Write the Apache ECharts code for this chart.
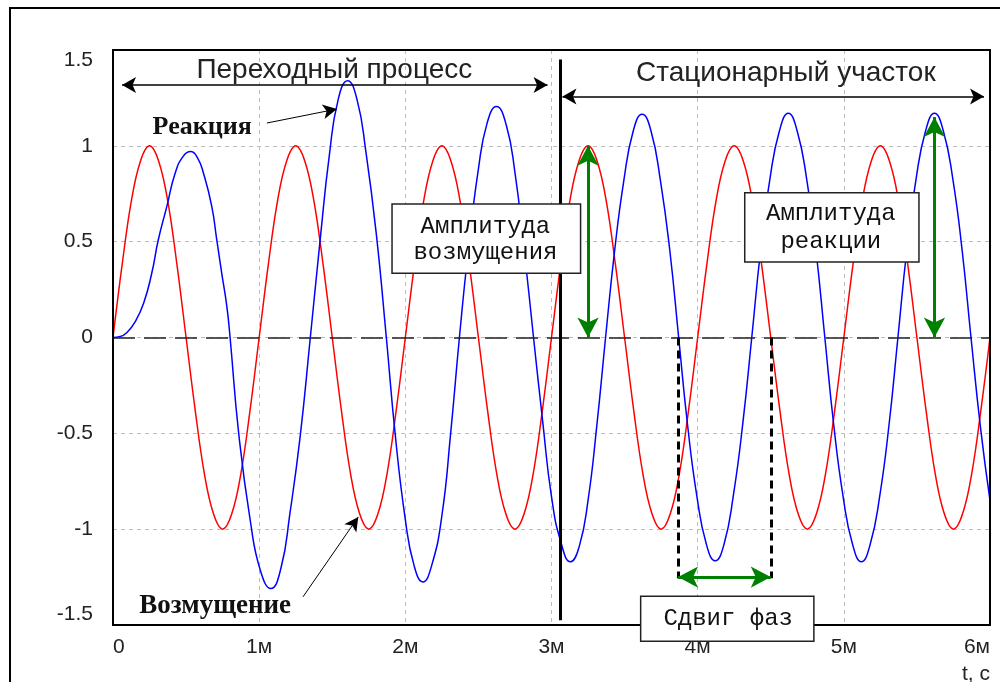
<!DOCTYPE html>
<html><head><meta charset="utf-8">
<script src="https://cdn.jsdelivr.net/npm/echarts@6/dist/echarts.min.js"></script>
<style>html,body{margin:0;padding:0;background:#fff}#c{width:1000px;height:682px}</style>
</head><body><div id="c"></div>
<script>
// ---- tick labels ----
const xTickLabels = ['0', '1м', '2м', '3м', '4м', '5м', '6м'];
const yTickLabels = {'-1.5': '-1.5', '-1': '-1', '-0.5': '-0.5', '0': '0', '0.5': '0.5', '1': '1', '1.5': '1.5'};

// ---- Возмущение (red), [t, value] ----
const disturbance = [
  [0,0],[0.0625,0.38],[0.125,0.71],[0.1875,0.92],[0.25,1],[0.3125,0.92],[0.375,0.71],[0.4375,0.38],
  [0.5,0],[0.5625,-0.38],[0.625,-0.71],[0.6875,-0.92],[0.75,-1],[0.8125,-0.92],[0.875,-0.71],[0.9375,-0.38],
  [1,0],[1.0625,0.38],[1.125,0.71],[1.1875,0.92],[1.25,1],[1.3125,0.92],[1.375,0.71],[1.4375,0.38],
  [1.5,0],[1.5625,-0.38],[1.625,-0.71],[1.6875,-0.92],[1.75,-1],[1.8125,-0.92],[1.875,-0.71],[1.9375,-0.38],
  [2,0],[2.0625,0.38],[2.125,0.71],[2.1875,0.92],[2.25,1],[2.3125,0.92],[2.375,0.71],[2.4375,0.38],
  [2.5,0],[2.5625,-0.38],[2.625,-0.71],[2.6875,-0.92],[2.75,-1],[2.8125,-0.92],[2.875,-0.71],[2.9375,-0.38],
  [3,0],[3.0625,0.38],[3.125,0.71],[3.1875,0.92],[3.25,1],[3.3125,0.92],[3.375,0.71],[3.4375,0.38],
  [3.5,0],[3.5625,-0.38],[3.625,-0.71],[3.6875,-0.92],[3.75,-1],[3.8125,-0.92],[3.875,-0.71],[3.9375,-0.38],
  [4,0],[4.0625,0.38],[4.125,0.71],[4.1875,0.92],[4.25,1],[4.3125,0.92],[4.375,0.71],[4.4375,0.38],
  [4.5,0],[4.5625,-0.38],[4.625,-0.71],[4.6875,-0.92],[4.75,-1],[4.8125,-0.92],[4.875,-0.71],[4.9375,-0.38],
  [5,0],[5.0625,0.38],[5.125,0.71],[5.1875,0.92],[5.25,1],[5.3125,0.92],[5.375,0.71],[5.4375,0.38],
  [5.5,0],[5.5625,-0.38],[5.625,-0.71],[5.6875,-0.92],[5.75,-1],[5.8125,-0.92],[5.875,-0.71],[5.9375,-0.38],
  [6,0]
];

// ---- Реакция (blue), [t, value] ----
const response = [
  [0,0],[0.05,0.005],[0.1,0.03],[0.15,0.08],[0.21,0.18],[0.265,0.335],[0.31,0.51],[0.368,0.683],
  [0.425,0.857],[0.48,0.945],[0.532,0.97],[0.58,0.935],[0.619,0.857],[0.676,0.683],[0.71,0.509],
  [0.744,0.335],[0.779,0.161],[0.801,0],
  [0.86,-0.5],[0.94,-0.96],[1.01,-1.22],[1.08,-1.31],[1.15,-1.2],[1.21,-0.92],[1.28,-0.52],[1.35,0],
  [1.42,0.53],[1.48,0.95],[1.54,1.24],[1.605,1.34],[1.67,1.24],[1.73,0.97],[1.8,0.55],[1.87,0],
  [1.93,-0.5],[2.0,-0.95],[2.06,-1.19],[2.12,-1.275],[2.18,-1.19],[2.25,-0.93],[2.31,-0.5],[2.37,0],
  [2.43,0.45],[2.5,0.88],[2.56,1.12],[2.623,1.205],[2.69,1.11],[2.75,0.86],[2.81,0.48],[2.877,0],
  [2.94,-0.44],[3.0,-0.83],[3.065,-1.07],[3.13,-1.17],[3.19,-1.09],[3.25,-0.85],[3.31,-0.46],[3.37,0],
  [3.43,0.44],[3.495,0.82],[3.56,1.08],[3.62,1.165],[3.68,1.08],[3.745,0.82],[3.81,0.45],[3.87,0],
  [3.93,-0.45],[3.995,-0.83],[4.06,-1.08],[4.12,-1.165],[4.18,-1.08],[4.245,-0.82],[4.31,-0.44],[4.37,0],
  [4.43,0.45],[4.495,0.83],[4.56,1.08],[4.62,1.17],[4.68,1.08],[4.745,0.83],[4.81,0.45],[4.87,0],
  [4.93,-0.45],[4.995,-0.83],[5.06,-1.08],[5.12,-1.17],[5.18,-1.08],[5.245,-0.83],[5.31,-0.45],[5.37,0],
  [5.43,0.45],[5.495,0.83],[5.56,1.08],[5.62,1.17],[5.68,1.08],[5.745,0.83],[5.81,0.45],[5.87,0],
  [5.935,-0.47],[6.0,-0.85]
];

// ---- annotations (data coordinates) ----
const transientSpan = [[0.062, 1.318], [2.973, 1.318]];
const steadySpan = [[3.075, 1.257], [5.959, 1.257]];
const boundary = [[3.062, 1.45], [3.062, -1.475]];
const distAmp = [[3.25, 0], [3.25, 1]];
const respAmp = [[5.62, 0], [5.62, 1.15]];
const phaseA = [[3.866, 0], [3.866, -1.256]];
const phaseB = [[4.5, 0], [4.5, -1.256]];
const phaseSpan = [[3.866, -1.25], [4.5, -1.25]];
const respPointer = [[1.053, 1.119], [1.532, 1.192]];
const distPointer = [[1.30, -1.353], [1.678, -0.936]];

const chart = echarts.init(document.getElementById('c'), null, {renderer: 'canvas'});

const blackArrow = {color: '#000', width: 1.5, type: 'solid'};
const greenArrow = {color: '#008000', width: 3, type: 'solid'};
function ml(coords, symbols, size, lineStyle) {
  return [
    {coord: coords[0], symbol: symbols[0], symbolSize: size, lineStyle: lineStyle, label: {show: false}},
    {coord: coords[1], symbol: symbols[1], symbolSize: size, lineStyle: lineStyle, label: {show: false}}
  ];
}

const option = {
  animation: false,
  backgroundColor: '#fff',
  grid: {left: 113, top: 50, right: 10, bottom: 57, show: false},
  xAxis: {
    type: 'value', min: 0, max: 6, interval: 1,
    axisLine: {show: false}, axisTick: {show: false},
    axisLabel: {
      fontFamily: 'Liberation Sans', fontSize: 21, color: '#222', margin: 12,
      alignMinLabel: 'left', alignMaxLabel: 'right',
      formatter: v => xTickLabels[Math.round(v)]
    },
    splitLine: {show: true, showMinLine: false, showMaxLine: false, lineStyle: {color: '#bdbdbd', width: 1, type: [4, 4]}}
  },
  yAxis: {
    type: 'value', min: -1.5, max: 1.5, interval: 0.5,
    axisLine: {show: false}, axisTick: {show: false},
    axisLabel: {
      fontFamily: 'Liberation Sans', fontSize: 21, color: '#222', margin: 20,
      verticalAlignMaxLabel: 'top', verticalAlignMinLabel: 'bottom',
      formatter: v => yTickLabels[String(v)]
    },
    splitLine: {show: true, showMinLine: false, showMaxLine: false, lineStyle: {color: '#bdbdbd', width: 1, type: [4, 4]}}
  },
  series: [
    {
      name: 'Возмущение', type: 'line', data: disturbance, smooth: 0.4, showSymbol: false,
      lineStyle: {color: '#ff0000', width: 1.5}, z: 3,
      markLine: {
        silent: true, animation: false, symbol: 'none', label: {show: false},
        data: [
          {yAxis: 0, lineStyle: {color: '#222', width: 1.5, type: [22, 9]}}
        ]
      }
    },
    {
      name: 'Реакция', type: 'line', data: response, smooth: 0.5, showSymbol: false,
      lineStyle: {color: '#0000ff', width: 1.5}, z: 4
    },
    {
      name: 'annotations', type: 'line', data: [], z: 6,
      markLine: {
        silent: true, animation: false, label: {show: false},
        data: [
          ml(boundary, ['none', 'none'], 0, {color: '#000', width: 3, type: 'solid'}),
          ml(phaseA, ['none', 'none'], 0, {color: '#000', width: 3, type: [8, 5]}),
          ml(phaseB, ['none', 'none'], 0, {color: '#000', width: 3, type: [8, 5]}),
          ml(transientSpan, ['arrow', 'arrow'], [12, 14], blackArrow),
          ml(steadySpan, ['arrow', 'arrow'], [12, 14], blackArrow),
          ml(distAmp, ['arrow', 'arrow'], [16, 20], greenArrow),
          ml(respAmp, ['arrow', 'arrow'], [16, 20], greenArrow),
          ml(phaseSpan, ['arrow', 'arrow'], [16, 20], greenArrow),
          ml(respPointer, ['none', 'arrow'], [11, 14], {color: '#000', width: 1, type: 'solid'}),
          ml(distPointer, ['none', 'arrow'], [11, 14], {color: '#000', width: 1, type: 'solid'})
        ]
      }
    }
  ]
};
chart.setOption(option);

// ---- text labels and boxes placed through the axes ----
const P = (t, v) => chart.convertToPixel({gridIndex: 0}, [t, v]);
const sans = 'Liberation Sans', serif = 'Liberation Serif', mono = 'Liberation Mono';

function txt(t, v, s, font, size, weight, color) {
  const p = P(t, v);
  return {type: 'text', x: p[0], y: p[1], z: 120,
    style: {text: s, fontFamily: font, fontSize: size, fontWeight: weight || 'normal', fill: color || '#111',
      align: 'center', verticalAlign: 'middle'}};
}
function box(t0, v0, t1, v1) {
  const a = P(t0, v0), b = P(t1, v1);
  return {type: 'rect', z: 110, shape: {x: a[0], y: a[1], width: b[0] - a[0], height: b[1] - a[1]},
    style: {fill: '#fff', stroke: '#222', lineWidth: 1.5}};
}
const c0 = P(0, 1.5), c1 = P(6, -1.5);

const graphics = [
  {type: 'rect', z: 100, shape: {x: c0[0], y: c0[1], width: c1[0] - c0[0], height: c1[1] - c0[1]},
    style: {fill: 'none', stroke: '#000', lineWidth: 2}},
  {type: 'rect', z: 130, shape: {x: 10, y: 8, width: 1000, height: 700}, style: {fill: 'none', stroke: '#000', lineWidth: 2}},
  txt(1.514, 1.392, 'Переходный процесс', sans, 28, 'normal', '#222'),
  txt(4.603, 1.381, 'Стационарный участок', sans, 28, 'normal', '#222'),
  txt(0.61, 1.099, 'Реакция', serif, 26, 'bold'),
  txt(0.699, -1.402, 'Возмущение', serif, 27, 'bold'),
  box(1.909, 0.697, 3.199, 0.335),
  txt(2.548, 0.579, 'Амплитуда', mono, 24),
  txt(2.548, 0.441, 'возмущения', mono, 24),
  box(4.322, 0.755, 5.514, 0.394),
  txt(4.911, 0.645, 'Амплитуда', mono, 24),
  txt(4.911, 0.500, 'реакции', mono, 24),
  box(3.610, -1.350, 4.795, -1.585),
  txt(4.209, -1.465, 'Сдвиг фаз', mono, 24),
  {type: 'text', x: 990, y: 674, z: 120,
    style: {text: 't, c', fontFamily: sans, fontSize: 21, fill: '#222', align: 'right', verticalAlign: 'middle'}}
];
chart.setOption({graphic: graphics});
</script>
</body></html>
